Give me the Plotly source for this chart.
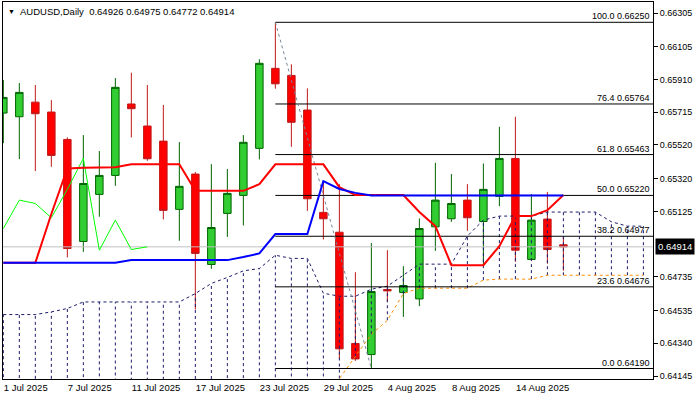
import plotly.graph_objects as go

# ---------------- data ----------------
dates = ["1 Jul", "2 Jul", "3 Jul", "4 Jul", "7 Jul", "8 Jul", "9 Jul", "10 Jul", "11 Jul",
         "14 Jul", "15 Jul", "16 Jul", "17 Jul", "18 Jul", "21 Jul", "22 Jul", "23 Jul", "24 Jul",
         "25 Jul", "28 Jul", "29 Jul", "30 Jul", "31 Jul", "1 Aug", "4 Aug", "5 Aug", "6 Aug",
         "7 Aug", "8 Aug", "11 Aug", "12 Aug", "13 Aug", "14 Aug", "15 Aug", "18 Aug", "19 Aug"]

opens = [0.65710, 0.65688, 0.65775, 0.65716, 0.65553, 0.64946, 0.65226, 0.65339, 0.65764,
         0.65633, 0.65543, 0.65137, 0.65347, 0.64809, 0.65113, 0.65220, 0.65500, 0.65976,
         0.65934, 0.65728, 0.65119, 0.65001, 0.64339, 0.64273, 0.64660, 0.64642, 0.64604,
         0.65033, 0.65081, 0.65192, 0.65065, 0.65214, 0.65440, 0.64839, 0.65079, 0.64926]
highs = [0.65907, 0.65889, 0.65877, 0.65787, 0.65565, 0.65579, 0.65484, 0.65918, 0.65950,
         0.65877, 0.65758, 0.65537, 0.65359, 0.65406, 0.65377, 0.65579, 0.66030, 0.66250,
         0.66000, 0.65857, 0.65305, 0.65287, 0.64763, 0.64936, 0.64894, 0.64799, 0.65083,
         0.65414, 0.65347, 0.65287, 0.65410, 0.65628, 0.65688, 0.65228, 0.65241, 0.64975]
lows = [0.65531, 0.65436, 0.65365, 0.65390, 0.64851, 0.64884, 0.65093, 0.65277, 0.65565,
        0.65426, 0.65077, 0.64950, 0.64541, 0.64783, 0.64973, 0.65041, 0.65434, 0.65855,
        0.65509, 0.65128, 0.64958, 0.64247, 0.64235, 0.64190, 0.64586, 0.64497, 0.64561,
        0.64890, 0.65063, 0.65009, 0.64805, 0.65156, 0.64825, 0.64835, 0.64815, 0.64772]
closes = [0.65803, 0.65833, 0.65706, 0.65458, 0.64904, 0.65291, 0.65339, 0.65863, 0.65736,
          0.65438, 0.65131, 0.65274, 0.64875, 0.65029, 0.65232, 0.65536, 0.66006, 0.65884,
          0.65655, 0.65200, 0.65081, 0.64307, 0.64247, 0.64648, 0.64652, 0.64684, 0.65023,
          0.65192, 0.65172, 0.65087, 0.65256, 0.65440, 0.64894, 0.65073, 0.64898, 0.64914]

tenkan = [0.64819, 0.64819, 0.64819, 0.65109, 0.65380, 0.65384, 0.65384, 0.65388, 0.65405,
          0.65405, 0.65405, 0.65405, 0.65247, 0.65247, 0.65247, 0.65247, 0.65287, 0.65405,
          0.65405, 0.65405, 0.65405, 0.65269, 0.65222, 0.65222, 0.65222, 0.65222, 0.65121,
          0.65037, 0.64805, 0.64805, 0.64805, 0.64918, 0.65097, 0.65097, 0.65132, 0.65222]
kijun = [0.64819, 0.64819, 0.64819, 0.64819, 0.64819, 0.64819, 0.64819, 0.64819, 0.64835,
         0.64835, 0.64835, 0.64835, 0.64835, 0.64835, 0.64835, 0.64853, 0.64875, 0.64990,
         0.64990, 0.64990, 0.65305, 0.65258, 0.65235, 0.65220, 0.65220, 0.65220, 0.65220,
         0.65220, 0.65220, 0.65220, 0.65220, 0.65220, 0.65220, 0.65220, 0.65220, 0.65220]
# leading spans, 41 bars (cloud runs ahead of price)
span_b = [0.64511, 0.64511, 0.64511, 0.64527, 0.64547, 0.64586, 0.64586, 0.64586, 0.64586,
          0.64586, 0.64586, 0.64586, 0.64636, 0.64696, 0.64732, 0.64771, 0.64785, 0.64864,
          0.64845, 0.64845, 0.64638, 0.64620, 0.64620, 0.64662, 0.64680, 0.64745, 0.64811,
          0.64811, 0.64811, 0.64978, 0.65073, 0.65097, 0.65097, 0.65097, 0.65121, 0.65121,
          0.65121, 0.65121, 0.65063, 0.65037, 0.65037]
span_a = [0.63960, 0.63955, 0.63950, 0.63950, 0.63955, 0.63960, 0.63965, 0.63970, 0.63975,
          0.63975, 0.63980, 0.63980, 0.63985, 0.63985, 0.63990, 0.63990, 0.63995, 0.63995,
          0.64000, 0.64000, 0.64000, 0.64130, 0.64259, 0.64394, 0.64477, 0.64636, 0.64668,
          0.64668, 0.64668, 0.64668, 0.64716, 0.64722, 0.64722, 0.64722, 0.64745, 0.64745,
          0.64745, 0.64745, 0.64745, 0.64745, 0.64745]

fib_pct = ["100.0", "76.4", "61.8", "50.0", "38.2", "23.6", "0.0"]
fib_val = [0.66250, 0.65764, 0.65463, 0.65220, 0.64977, 0.64676, 0.64190]

y_tickvals = [0.66305, 0.66105, 0.65910, 0.65715, 0.65520, 0.65320, 0.65125,
              0.64735, 0.64535, 0.64340, 0.64145]
y_ticktext = ["0.66305", "0.66105", "0.65910", "0.65715", "0.65520", "0.65320", "0.65125",
              "0.64735", "0.64535", "0.64340", "0.64145"]
x_tickpos = [0, 4, 8, 12, 16, 20, 24, 28, 32]
x_ticktext = ["1 Jul 2025", "7 Jul 2025", "11 Jul 2025", "17 Jul 2025", "23 Jul 2025",
              "29 Jul 2025", "4 Aug 2025", "8 Aug 2025", "14 Aug 2025"]

symbol = "AUDUSD,Daily"
fib_start_bar = 17   # 24 Jul high
fib_end_bar = 23     # 1 Aug low

# ---------------- layout constants ----------------
X_MIN, X_MAX = -0.02, 40.6
Y_MIN, Y_MAX = 0.641276, 0.663708
FONT = "Liberation Sans"
NAVY = "#1c1c6b"

n = len(closes)
idx = list(range(n))
last = n - 1

fig = go.Figure()

# cloud hatch
hx, hy = [], []
for k in range(len(span_b)):
    hx += [k, k, None]
    hy += [span_a[k], span_b[k], None]
fig.add_trace(go.Scatter(x=hx, y=hy, mode="lines",
                         line=dict(color=NAVY, width=1, dash="3px,3px"), hoverinfo="skip"))
fig.add_trace(go.Scatter(x=list(range(len(span_b))), y=span_b, mode="lines",
                         line=dict(color=NAVY, width=1, dash="3px,3px"), hoverinfo="skip"))
fig.add_trace(go.Scatter(x=list(range(len(span_a))), y=span_a, mode="lines",
                         line=dict(color="#ff8c00", width=1, dash="3px,3px"), hoverinfo="skip"))

# fibonacci levels
for v in fib_val:
    fig.add_trace(go.Scatter(x=[fib_start_bar, X_MAX], y=[v, v], mode="lines",
                             line=dict(color="black", width=1), hoverinfo="skip"))
fig.add_trace(go.Scatter(x=[fib_start_bar, fib_end_bar],
                         y=[highs[fib_start_bar], lows[fib_end_bar]], mode="lines",
                         line=dict(color="#778899", width=1, dash="3px,3px"), hoverinfo="skip"))

# bid line
fig.add_trace(go.Scatter(x=[X_MIN, X_MAX], y=[closes[last], closes[last]], mode="lines",
                         line=dict(color="#c0c0c0", width=1), hoverinfo="skip"))

# chikou (closes shifted back 26 bars)
fig.add_trace(go.Scatter(x=idx[:n - 26], y=closes[26:], mode="lines",
                         line=dict(color="#00ff00", width=1), hoverinfo="skip"))
fig.add_trace(go.Scatter(x=idx, y=tenkan, mode="lines",
                         line=dict(color="#ff0000", width=2), hoverinfo="skip"))
fig.add_trace(go.Scatter(x=idx, y=kijun, mode="lines",
                         line=dict(color="#0000ff", width=2), hoverinfo="skip"))

# candles
fig.add_trace(go.Candlestick(
    x=idx, open=opens, high=highs, low=lows, close=closes,
    increasing=dict(line=dict(color="#006400", width=1), fillcolor="#32cd32"),
    decreasing=dict(line=dict(color="#c01818", width=1), fillcolor="#ff0000"),
    whiskerwidth=0, hoverinfo="skip"))

annotations = []
for p, v in zip(fib_pct, fib_val):
    annotations.append(dict(x=1, xref="paper", y=v, yref="y", xanchor="right",
                            yanchor="bottom", xshift=-1, yshift=-1, showarrow=False,
                            text=f"{p} {v:.5f}", font=dict(family=FONT, size=9, color="black")))
annotations.append(dict(x=0.0046, xref="paper", y=0.976, yref="paper", xanchor="left",
                        yanchor="middle", showarrow=False, text="▼",
                        font=dict(family=FONT, size=7, color="black")))
annotations.append(dict(x=0.0225, xref="paper", y=0.976, yref="paper", xanchor="left",
                        yanchor="middle", showarrow=False,
                        text=f"{symbol}\u00a0\u00a0{opens[last]:.5f} {highs[last]:.5f} "
                             f"{lows[last]:.5f} {closes[last]:.5f}",
                        font=dict(family=FONT, size=9.5, color="black")))
annotations.append(dict(x=1, xref="paper", y=closes[last], yref="y", xanchor="left",
                        yanchor="middle", xshift=2, showarrow=False,
                        text=f"{closes[last]:.5f}", bgcolor="black", borderpad=2,
                        font=dict(family=FONT, size=9.5, color="white")))

fig.update_layout(
    width=700, height=400,
    margin=dict(l=3, r=47, t=2, b=21, autoexpand=False),
    paper_bgcolor="white", plot_bgcolor="white",
    showlegend=False, boxgap=0.33, hovermode=False,
    font=dict(family=FONT, size=9, color="black"),
    annotations=annotations,
    xaxis=dict(range=[X_MIN, X_MAX], showgrid=False, zeroline=False, automargin=False,
               showline=True, mirror=True, linecolor="black", linewidth=1,
               tickmode="array", tickvals=x_tickpos, ticktext=x_ticktext,
               ticks="", ticklabelposition="outside right",
               rangeslider=dict(visible=False), tickfont=dict(family=FONT, size=9.5)),
    yaxis=dict(range=[Y_MIN, Y_MAX], side="right", showgrid=False, zeroline=False,
               automargin=False,
               showline=True, mirror=True, linecolor="black", linewidth=1,
               tickmode="array", tickvals=y_tickvals, ticktext=y_ticktext,
               ticks="outside", ticklen=4, tickcolor="black",
               tickfont=dict(family=FONT, size=9)),
)

fig.write_html("out.html", config={"displayModeBar": False, "staticPlot": True},
               post_script="document.body.style.margin='0';document.body.style.overflow='hidden';")
